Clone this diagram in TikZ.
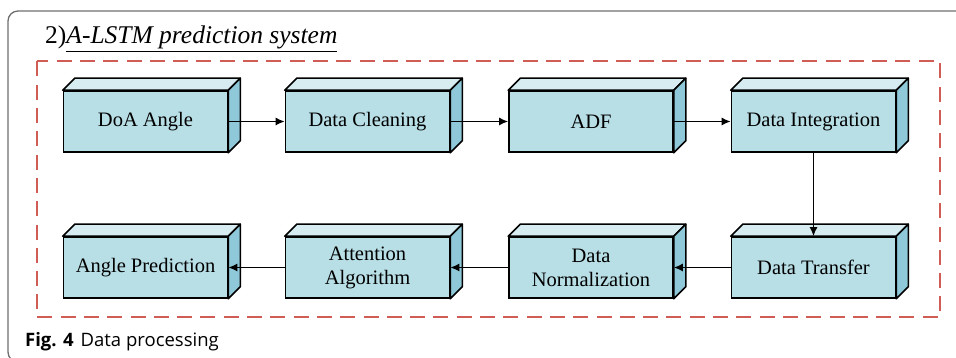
\documentclass[tikz,border=0pt]{standalone}
\usepackage{fontspec}
\setmainfont{Liberation Serif}
\setsansfont{Open Sans}
\usetikzlibrary{arrows.meta}
\definecolor{frontc}{RGB}{184,222,230}
\definecolor{topc}{RGB}{214,236,241}
\definecolor{sidec}{RGB}{143,200,216}
\definecolor{redd}{RGB}{208,92,86}
\definecolor{framec}{RGB}{110,110,110}
\tikzset{
  cube/.style={draw=black, fill=frontc, line width=1.6pt, minimum width=164pt, minimum height=61pt,
    inner sep=0pt, align=center, font=\fontsize{20.5}{24}\selectfont},
  conn/.style={line width=1.5pt, -{Latex[length=9pt,width=8pt]}},
}
\begin{document}
\begin{tikzpicture}[x=1pt,y=1pt]
\useasboundingbox (0,0) rectangle (956,358);
\clip (0,0) rectangle (956,358);
\draw[framec, line width=1.3pt, rounded corners=10pt] (8,-4) rectangle (980,347);
\node[anchor=base west, inner sep=0pt, font=\fontsize{25.5}{30}\selectfont] (title) at (45,314) {2)\underline{\textit{A-LSTM prediction system}}};
\draw[redd, line width=2pt, dash pattern=on 15pt off 8.3pt] (37,296.5) rectangle (940,40.5);
\node[anchor=base west, inner sep=0pt, font=\sffamily\fontsize{18.5}{22}\selectfont] (cap) at (25,11) {\textbf{Fig. 4}\hspace{7pt}Data processing};
\node[cube] (b1) at (145.5,236.5) {DoA Angle};
\node[cube] (b2) at (367.5,236.5) {Data Cleaning};
\node[cube] (b3) at (591,236.5) {ADF};
\node[cube] (b4) at (813.5,236.5) {Data Integration};
\node[cube] (b5) at (813.5,90.5) {Data Transfer};
\node[cube] (b6) at (591,90.5) {Data\\Normalization};
\node[cube] (b7) at (367.5,90.5) {Attention\\Algorithm};
\node[cube] (b8) at (145.5,90.5) {Angle Prediction};
\foreach \n in {b1,b2,b3,b4,b5,b6,b7,b8} {
  \filldraw[fill=topc, line width=1.6pt, line join=round] (\n.north west) -- ([shift={(12,12)}]\n.north west) -- ([shift={(12,12)}]\n.north east) -- (\n.north east) -- cycle;
  \filldraw[fill=sidec, line width=1.6pt, line join=round] (\n.north east) -- ([shift={(12,12)}]\n.north east) -- ([shift={(12,12)}]\n.south east) -- (\n.south east) -- cycle;
}
\draw[conn] (b1.east) -- (b2.west);
\draw[conn] (b2.east) -- (b3.west);
\draw[conn] (b3.east) -- (b4.west);
\draw[conn] (b4.south) -- (b5.north);
\draw[conn] (b5.west) -- (b6.east);
\draw[conn] (b6.west) -- (b7.east);
\draw[conn] (b7.west) -- (b8.east);
\end{tikzpicture}
\end{document}
